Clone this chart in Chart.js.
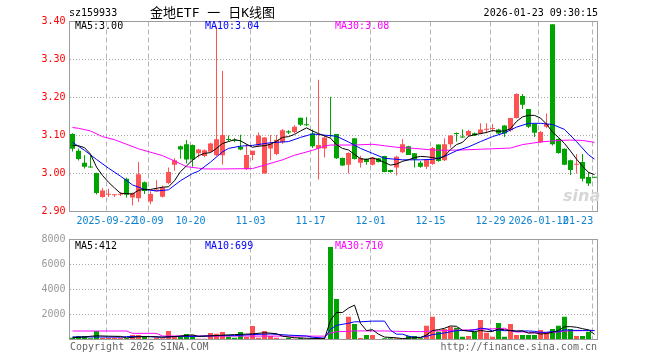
<!DOCTYPE html>
<html>
<head>
<meta charset="utf-8">
<title>sz159933 日K线图</title>
<script src="https://cdn.jsdelivr.net/npm/chart.js"></script>
<style>
  body { margin: 0; background: #fff; }
  .box { position: relative; width: 660px; height: 360px; overflow: hidden; font-family: "DejaVu Sans Mono", monospace; font-size: 10px; }
  .box canvas { position: absolute; left: 0; top: 0; }
  .txt { position: absolute; white-space: pre; line-height: 12px; }
</style>
</head>
<body>
<div class="box">
  <canvas id="kChart" width="660" height="360"></canvas>
  <canvas id="volChart" width="660" height="360"></canvas>

  <div class="txt" style="left:69px;top:7px;">sz159933</div>
  <div class="txt" style="left:150px;top:5px;font-size:13px;line-height:16px;font-family:'DejaVu Sans Mono','Noto Sans CJK SC',sans-serif;">金地ETF 一 日K线图</div>
  <div class="txt" style="right:62px;top:7px;">2026-01-23 09:30:15</div>

  <div class="txt" style="left:75px;top:20px;color:#000;">MA5:3.00</div>
  <div class="txt" style="left:205px;top:20px;color:#0000ff;">MA10:3.04</div>
  <div class="txt" style="left:335px;top:20px;color:#ff00ff;">MA30:3.08</div>

  <div class="txt" style="left:75px;top:240px;color:#000;">MA5:412</div>
  <div class="txt" style="left:205px;top:240px;color:#0000ff;">MA10:699</div>
  <div class="txt" style="left:335px;top:240px;color:#ff00ff;">MA30:710</div>

  <div class="txt" style="left:563px;top:186px;font:italic bold 16px 'DejaVu Sans',sans-serif;color:#d6d6d6;line-height:20px;">sina</div>

  <div class="txt" style="left:70px;top:341px;color:#666;">Copyright 2026 SINA.COM</div>
  <div class="txt" style="right:63px;top:341px;color:#666;">http://finance.sina.com.cn</div>
</div>

<script>
// ticks
const priceTicks = [2.9, 3.0, 3.1, 3.2, 3.3, 3.4];
const volTicks = [0, 2000, 4000, 6000, 8000];
const gridDays = [6, 13, 20, 30, 40, 50, 60, 70, 78, 87];
const labelDays = [6, 13, 20, 30, 40, 50, 60, 70, 78, 84.6];
const dateLabels = ["2025-09-22", "10-09", "10-20", "11-03", "11-17", "12-01", "12-15", "12-29", "2026-01-12", "01-23"];

// daily candles (88 trading days)
const open = [3.104,3.060,3.028,3.018,3.001,2.938,2.944,2.943,2.944,2.986,
  2.937,2.935,2.977,2.926,2.953,2.939,2.975,3.023,3.072,3.077,
  3.075,3.053,3.046,3.057,3.048,3.048,3.091,3.088,3.070,3.011,
  3.049,3.074,3.000,3.066,3.051,3.082,3.111,3.109,3.147,3.129,
  3.105,3.066,3.066,3.101,3.104,3.041,3.023,3.093,3.028,3.038,
  3.023,3.040,3.046,3.009,3.016,3.056,3.072,3.053,3.028,3.018,
  3.025,3.076,3.035,3.077,3.106,3.097,3.100,3.106,3.105,3.115,
  3.117,3.116,3.126,3.114,3.146,3.204,3.170,3.130,3.082,3.123,
  3.393,3.091,3.065,3.035,3.023,3.030,2.991,2.990];
const high = [3.106,3.066,3.048,3.048,3.002,2.962,2.960,2.945,2.951,2.989,
  2.950,3.030,2.979,2.953,2.982,2.968,3.016,3.040,3.074,3.088,
  3.076,3.065,3.063,3.081,3.386,3.270,3.100,3.093,3.102,3.078,
  3.060,3.108,3.096,3.101,3.101,3.117,3.114,3.127,3.147,3.149,
  3.116,3.247,3.100,3.202,3.104,3.042,3.056,3.093,3.047,3.040,
  3.043,3.041,3.047,3.010,3.047,3.091,3.073,3.054,3.033,3.038,
  3.070,3.076,3.093,3.101,3.108,3.116,3.115,3.108,3.132,3.132,
  3.130,3.118,3.127,3.147,3.211,3.209,3.170,3.131,3.112,3.158,
  3.393,3.093,3.066,3.036,3.051,3.051,3.003,2.991];
const low = [3.058,3.034,3.013,3.015,2.945,2.936,2.938,2.938,2.941,2.937,
  2.916,2.925,2.946,2.919,2.953,2.937,2.972,3.007,3.039,3.026,
  3.018,3.042,3.043,3.055,3.046,3.024,3.085,3.082,3.061,3.009,
  3.035,3.069,3.000,3.035,3.048,3.078,3.104,3.105,3.125,3.125,
  3.067,2.984,3.042,3.095,3.038,3.020,3.000,3.037,3.016,3.023,
  3.021,3.029,3.003,3.002,2.995,3.054,3.049,3.016,3.015,3.012,
  3.023,3.031,3.033,3.068,3.084,3.094,3.097,3.099,3.103,3.106,
  3.110,3.104,3.096,3.110,3.145,3.170,3.120,3.096,3.080,3.120,
  3.074,3.052,3.022,2.996,3.000,2.979,2.967,2.988];
const close = [3.065,3.038,3.018,3.016,2.949,2.955,2.946,2.944,2.946,2.944,
  2.948,2.998,2.954,2.946,2.958,2.963,3.004,3.035,3.063,3.037,
  3.037,3.063,3.061,3.079,3.090,3.101,3.088,3.086,3.063,3.049,
  3.060,3.100,3.095,3.079,3.089,3.114,3.108,3.123,3.128,3.127,
  3.072,3.075,3.095,3.099,3.040,3.021,3.054,3.038,3.041,3.030,
  3.042,3.030,3.004,3.004,3.044,3.077,3.049,3.037,3.018,3.037,
  3.067,3.033,3.077,3.100,3.104,3.095,3.112,3.100,3.116,3.117,
  3.119,3.105,3.105,3.146,3.209,3.181,3.123,3.107,3.109,3.130,
  3.077,3.054,3.023,3.009,3.025,2.986,2.974,2.989];
const volume = [147,280,280,93,680,120,147,147,147,93,
  360,360,280,67,147,93,680,200,200,440,
  360,67,67,520,467,600,227,147,600,200,
  1080,147,680,280,147,67,147,67,147,67,
  67,67,67,7400,3240,40,1827,1240,120,360,
  360,40,93,93,93,30,280,280,93,1107,
  1827,627,840,1027,947,227,280,627,1560,547,
  227,1320,227,1240,360,360,360,360,760,547,
  840,1107,1827,840,280,280,627,40];

// moving averages: [day, value]
const ma5 = [[0,3.074],[1,3.073],[2,3.068],[3,3.051],[4,3.017],[5,2.995],[6,2.977],[7,2.962],[8,2.948],[9,2.947],
  [10,2.946],[11,2.956],[12,2.958],[13,2.958],[14,2.961],[15,2.964],[16,2.965],[17,2.981],[18,3.005],[19,3.020],
  [20,3.035],[21,3.047],[22,3.053],[23,3.055],[24,3.066],[25,3.079],[26,3.084],[27,3.089],[28,3.086],[29,3.077],
  [30,3.069],[31,3.072],[32,3.073],[33,3.077],[34,3.085],[35,3.095],[36,3.097],[37,3.103],[38,3.112],[39,3.120],
  [40,3.112],[41,3.105],[42,3.099],[43,3.093],[44,3.076],[45,3.066],[46,3.062],[47,3.050],[48,3.039],[49,3.037],
  [50,3.041],[51,3.036],[52,3.029],[53,3.022],[54,3.025],[55,3.032],[56,3.036],[57,3.042],[58,3.045],[59,3.044],
  [60,3.042],[61,3.038],[62,3.046],[63,3.063],[64,3.076],[65,3.082],[66,3.098],[67,3.102],[68,3.105],[69,3.108],
  [70,3.113],[71,3.111],[72,3.112],[73,3.118],[74,3.137],[75,3.149],[76,3.153],[77,3.153],[78,3.146],[79,3.130],
  [80,3.109],[81,3.095],[82,3.079],[83,3.059],[84,3.038],[85,3.019],[86,3.003],[87,2.997]];
const ma10 = [[0,3.082],[2,3.061],[4,3.037],[6,3.014],[8,2.993],[10,2.970],[12,2.958],[14,2.954],[16,2.957],[18,2.981],
  [20,3.000],[21,3.006],[23,3.030],[25,3.057],[26,3.066],[28,3.072],[30,3.074],[33,3.081],[36,3.084],[38,3.095],
  [40,3.104],[42,3.101],[44,3.098],[46,3.083],[48,3.066],[50,3.053],[52,3.040],[55,3.036],[58,3.036],[60,3.037],
  [62,3.045],[64,3.060],[66,3.070],[68,3.084],[70,3.097],[72,3.107],[74,3.122],[76,3.132],[78,3.132],[80,3.129],
  [82,3.116],[84,3.084],[86,3.049],[87,3.038]];
const ma30 = [[0,3.121],[1,3.119],[3,3.112],[5,3.097],[7,3.089],[9,3.077],[11,3.065],[13,3.056],[15,3.047],[17,3.033],
  [19,3.018],[21,3.014],[22,3.012],[25,3.012],[30,3.013],[32,3.022],[35,3.036],[37,3.048],[40,3.061],[42,3.072],
  [43,3.075],[47,3.075],[50,3.077],[52,3.073],[54,3.069],[57,3.066],[60,3.062],[62,3.061],[65,3.062],[68,3.064],
  [70,3.065],[73,3.067],[75,3.076],[78,3.083],[81,3.087],[83,3.088],[85,3.087],[87,3.082]];
const volMa5 = [[0,150],[2,200],[3,260],[4,296],[6,264],[8,248],[9,131],[11,221],[13,232],[15,189],
  [17,237],[19,323],[20,376],[21,253],[23,291],[25,344],[27,392],[28,408],[30,451],[32,541],
  [34,467],[35,264],[37,142],[39,99],[42,67],[43,1534],[44,2168],[45,2163],[46,2515],[47,2749],
  [48,1293],[49,717],[50,781],[51,424],[52,195],[54,136],[55,70],[56,118],[58,155],[59,358],
  [60,717],[61,787],[62,899],[63,1086],[64,1054],[65,734],[66,664],[67,622],[68,728],[69,648],
  [70,648],[71,856],[72,776],[73,712],[74,675],[75,701],[76,509],[77,544],[78,440],[79,477],
  [80,573],[81,723],[82,1016],[83,1032],[84,979],[85,867],[86,771],[87,413]];
const volMa10 = [[0,210],[4,200],[8,190],[9,233],[12,243],[15,184],[18,248],[21,253],[24,309],[27,310],
  [30,398],[33,443],[36,350],[39,283],[40,182],[42,112],[43,824],[44,1134],[46,1299],[47,1416],
  [48,1414],[50,1472],[52,1472],[53,741],[54,427],[55,426],[56,271],[57,175],[58,172],[59,247],
  [60,394],[61,452],[62,527],[63,620],[64,706],[66,726],[67,760],[68,907],[69,851],[70,691],
  [71,760],[72,699],[73,720],[74,662],[76,683],[77,656],[78,576],[79,576],[80,637],[81,616],
  [82,776],[83,736],[85,720],[86,747],[87,715]];
const volMa30 = [[0,680],[9,680],[10,493],[14,493],[15,280],[42,270],[43,515],[44,618],[46,654],[47,689],
  [50,684],[52,684],[54,657],[56,640],[58,627],[60,682],[62,704],[64,755],[66,765],[68,831],
  [70,852],[72,899],[73,694],[74,598],[75,609],[76,560],[77,530],[78,552],[80,574],[81,610],
  [82,667],[83,692],[85,707],[86,718],[87,710]];

const RED = "#ff5252";
const GREEN = "#00a400";
const candleColors = open.map((o, i) => (close[i] >= o ? RED : GREEN));
const days = open.map((_, i) => i);
const shift = -1 / 3; // grid lines sit on the left pixel of the candle body

Chart.defaults.font.family = "'DejaVu Sans Mono', monospace";
Chart.defaults.font.size = 10;
Chart.defaults.animation = false;

// gray frame round the plot area
const frame = {
  id: "frame",
  afterDraw(chart) {
    const { ctx, chartArea: a } = chart;
    ctx.save();
    ctx.strokeStyle = "#9c9c9c";
    ctx.lineWidth = 1;
    ctx.strokeRect(a.left, a.top, a.right - a.left, a.bottom - a.top);
    ctx.restore();
  },
};

const gridAxis = () => ({
  type: "linear",
  bounds: "data",
  offset: false,
  min: -0.5,
  max: open.length - 0.5,
  afterBuildTicks: (s) => { s.ticks = gridDays.map((d) => ({ value: d + shift })); },
  afterFit: (s) => { s.height = 0; },
  ticks: { display: false },
  grid: { color: "#b4b4b4", drawTicks: false, offset: false },
  border: { display: false, dash: [5, 3] },
});

const maLine = (pts, color) => ({
  type: "line",
  data: pts.map((p) => ({ x: p[0], y: p[1] })),
  borderColor: color,
  borderWidth: 1,
  pointRadius: 0,
  tension: 0,
  xAxisID: "x",
  order: 0,
});

new Chart(document.getElementById("kChart"), {
  type: "bar",
  data: {
    datasets: [
      maLine(ma5, "#000000"),
      maLine(ma10, "#0000ff"),
      maLine(ma30, "#ff00ff"),
      {
        label: "body",
        data: days.map((i) => ({ x: i, y: [open[i], close[i]] })),
        backgroundColor: candleColors,
        barThickness: 5,
        minBarLength: 1,
        grouped: false,
        inflateAmount: 0,
        xAxisID: "x",
        order: 1,
      },
      {
        label: "wick",
        data: days.map((i) => ({ x: i, y: [low[i], high[i]] })),
        backgroundColor: candleColors,
        barThickness: 1,
        grouped: false,
        inflateAmount: 0,
        xAxisID: "x",
        order: 2,
      },
    ],
  },
  options: {
    responsive: false,
    layout: { padding: { top: 21.5, right: 62.5, bottom: 128.5, left: 0 } },
    plugins: { legend: { display: false }, tooltip: { enabled: false } },
    events: [],
    scales: {
      x: gridAxis(),
      xl: {
        type: "linear",
        position: "bottom",
        bounds: "data",
        offset: false,
        min: -0.5,
        max: open.length - 0.5,
        afterBuildTicks: (s) => { s.ticks = labelDays.map((d) => ({ value: d + shift })); },
        afterFit: (s) => { s.height = 20; },
        ticks: {
          autoSkip: false,
          maxRotation: 0,
          color: "#0b82d2",
          padding: 4,
          callback: (v, i) => dateLabels[i],
        },
        grid: { display: false, drawTicks: false },
        border: { display: false },
      },
      y: {
        min: 2.9,
        max: 3.4,
        afterBuildTicks: (s) => { s.ticks = priceTicks.map((v) => ({ value: v })); },
        afterFit: (s) => { s.width = 69.5; },
        ticks: { color: "#ff0000", padding: 4, callback: (v) => v.toFixed(2) },
        grid: { color: "#a8a8a8", drawTicks: false },
        border: { display: false, dash: [1, 2] },
      },
    },
  },
  plugins: [frame],
});

new Chart(document.getElementById("volChart"), {
  type: "bar",
  data: {
    datasets: [
      maLine(volMa5, "#000000"),
      maLine(volMa10, "#0000ff"),
      maLine(volMa30, "#ff00ff"),
      {
        label: "volume",
        data: days.map((i) => ({ x: i, y: volume[i] })),
        backgroundColor: candleColors,
        barThickness: 5,
        grouped: false,
        inflateAmount: 0,
        xAxisID: "x",
        order: 1,
      },
    ],
  },
  options: {
    responsive: false,
    layout: { padding: { top: 239.5, right: 62.5, bottom: 20.5, left: 0 } },
    plugins: { legend: { display: false }, tooltip: { enabled: false } },
    events: [],
    scales: {
      x: gridAxis(),
      y: {
        min: 0,
        max: 8000,
        afterBuildTicks: (s) => { s.ticks = volTicks.map((v) => ({ value: v })); },
        afterFit: (s) => { s.width = 69.5; },
        ticks: { color: "#999999", padding: 4, callback: (v) => (v === 0 ? "" : String(v)) },
        grid: { color: "#a8a8a8", drawTicks: false },
        border: { display: false, dash: [1, 2] },
      },
    },
  },
  plugins: [frame],
});
</script>
</body>
</html>
